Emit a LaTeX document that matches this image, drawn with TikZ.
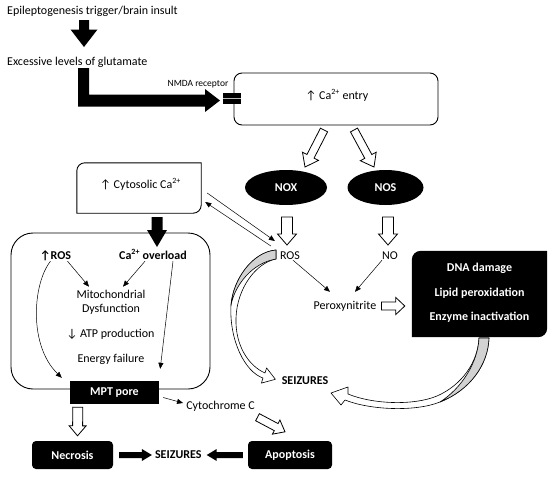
\documentclass[tikz,border=0pt]{standalone}
\usepackage{fontspec}
\setmainfont{Carlito}
\usetikzlibrary{arrows.meta,calc,shapes.geometric}

\newcommand{\blockarr}[6]{%
  \coordinate (hb) at ($(#3)!#6!(#2)$);
  \path[#1] ($(#2)!#4!90:(#3)$) -- ($(hb)!#4!90:(#3)$) -- ($(hb)!#5!90:(#3)$) -- (#3)
     -- ($(hb)!#5!-90:(#3)$) -- ($(hb)!#4!-90:(#3)$) -- ($(#2)!#4!-90:(#3)$) -- cycle;}

\begin{document}
\begin{tikzpicture}[x=1pt,y=-1pt,
  txt/.style={font=\fontsize{12}{14.5}\selectfont, inner sep=0pt, text height=8pt, text depth=2pt},
  btxt/.style={txt, font=\fontsize{12}{14.5}\selectfont\bfseries},
  blackbox/.style={fill=black, text=white, font=\fontsize{12}{14.5}\selectfont\bfseries, inner sep=0pt},
  whitebox/.style={draw=black, line width=0.9pt, fill=white, inner sep=0pt},
  thinarr/.style={line width=0.5pt, -{Triangle[length=6pt,width=5pt]}},
  openarr/.style={draw=black, fill=white, line width=0.8pt, line join=miter},
  solidarr/.style={fill=black},
  ribbon/.style={draw=black, fill=white, line width=0.6pt, line join=round},
  lens/.style={draw=black, fill=gray!35, line width=0.6pt, line join=round},
]
\useasboundingbox (0,0) rectangle (550,477);

% ---------- top texts ----------
\node[txt, anchor=base west] (ep) at (7,14) {Epileptogenesis trigger/brain insult};
\node[txt, anchor=base west] (glu) at (7,65) {Excessive levels of glutamate};
\node[inner sep=0pt, font=\fontsize{9.5}{11}\selectfont] (nmda) at (198,84) {NMDA receptor};

% ---------- Ca entry box ----------
\node[whitebox, rounded corners=8pt, minimum width=204pt, minimum height=52pt] (ca) at (336,99) {};
\node[txt] (catxt) at (337,96) {↑ Ca\textsuperscript{2+} entry};

% top black arrow
\coordinate (a1s) at (84,20);
\coordinate (a1e) at (84,47);
\blockarr{solidarr}{a1s}{a1e}{5pt}{13.5pt}{17.5pt}

% L-shaped arrow
\fill[black] (78,68) -- (89,68) -- (89,94.5) -- (205,94.5) -- (205,89) -- (220,100.5)
   -- (205,112) -- (205,106.5) -- (78,106.5) -- cycle;
% NMDA receptor bar
\node[fill=black, minimum width=18pt, minimum height=11pt, inner sep=0pt] (bar) at (232,98.5) {};
\draw[gray!55, line width=1.6pt] (bar.west) -- (bar.east);

% ---------- NOX / NOS ----------
\node[ellipse, fill=black, text=white, font=\fontsize{12}{14.5}\selectfont\bfseries,
      minimum width=82pt, minimum height=35pt, inner sep=0pt] (nox) at (286,187.5) {NOX};
\node[ellipse, fill=black, text=white, font=\fontsize{12}{14.5}\selectfont\bfseries,
      minimum width=76pt, minimum height=35pt, inner sep=0pt] (nos) at (385.5,187.5) {NOS};

\coordinate (a2s) at (324,130); \coordinate (a2e) at (305,167);
\blockarr{openarr}{a2s}{a2e}{4pt}{9pt}{12pt}
\coordinate (a3s) at (354,130); \coordinate (a3e) at (374,167);
\blockarr{openarr}{a3s}{a3e}{4pt}{9pt}{12pt}

\node[txt] (ros) at (290,256) {ROS};
\node[txt] (no) at (390,256) {NO};
\coordinate (a4s) at (287,217); \coordinate (a4e) at (287,245);
\blockarr{openarr}{a4s}{a4e}{5.5pt}{9.5pt}{11pt}
\coordinate (a5s) at (388,217); \coordinate (a5e) at (388,245);
\blockarr{openarr}{a5s}{a5e}{5.5pt}{9.5pt}{11pt}

\node[txt] (perox) at (345,306) {Peroxynitrite};
\draw[thinarr] ($(ros.south)+(3,-1)$) -- ($(perox.north)+(-15,-9)$);
\draw[thinarr] ($(no.south)+(-8,-1)$) -- ($(perox.north)+(10,-9)$);

% DNA box
\node[minimum width=135pt, minimum height=86pt, inner sep=0pt] (dna) at (479.5,294) {};
\fill[black] (dna.south west) -- ([yshift=-9pt]dna.north west) arc[start angle=180,end angle=90,radius=9pt]
   -- (dna.north east) -- ([yshift=9pt]dna.south east) arc[start angle=0,end angle=-90,radius=9pt] -- cycle;
\node[text=white, font=\fontsize{12}{24.5}\selectfont\bfseries, align=center, inner sep=0pt] (dnatxt) at (479.5,293)
  {DNA damage\\Lipid peroxidation\\Enzyme inactivation};

\coordinate (a6s) at ($(perox.east)+(5,0)$); \coordinate (a6e) at ($(dna.west)+(-7,12)$);
\blockarr{openarr}{a6s}{a6e}{4pt}{8.5pt}{9pt}

% ---------- cytosolic box ----------
\node[minimum width=124pt, minimum height=50pt, inner sep=0pt] (cyto) at (139,188) {};
\draw[line width=0.9pt, fill=white] (cyto.south west) -- ([yshift=-8pt]cyto.north west) arc[start angle=180,end angle=90,radius=8pt]
   -- (cyto.north east) -- ([yshift=8pt]cyto.south east) arc[start angle=0,end angle=-90,radius=8pt] -- cycle;
\node[txt] (cytotxt) at (140.5,185) {↑ Cytosolic Ca\textsuperscript{2+}};

\draw[thinarr] ($(cyto.east)+(6,5)$) -- ($(ros.west)+(-5,-15)$);
\draw[thinarr] ($(ros.west)+(-9,-10)$) -- ($(cyto.east)+(4,14)$);

% ---------- big mitochondria box ----------
\node[whitebox, rounded corners=22pt, minimum width=199pt, minimum height=156pt] (big) at (110.5,311) {};
\coordinate (a7s) at (157,217); \coordinate (a7e) at (157,247);
\blockarr{solidarr}{a7s}{a7e}{5.5pt}{10pt}{17pt}

\node[btxt] (rosb) at (55.5,256) {↑ROS};
\node[btxt] (caov) at (153,256) {Ca\textsuperscript{2+} overload};
\node[font=\fontsize{12}{14}\selectfont, align=center, inner sep=0pt] (mito) at (111,302) {Mitochondrial\\Dysfunction};
\node[txt] (atp) at (110.5,334) {↓ ATP production};
\node[txt] (energy) at (111,359.5) {Energy failure};

\draw[thinarr] ($(rosb.south)+(12,0)$) -- ($(mito.north)+(-22,-3)$);
\draw[thinarr] ($(caov.south)+(-8,0)$) -- ($(mito.north)+(12,-3)$);

% MPT pore
\node[blackbox, minimum width=89pt, minimum height=23pt] (mpt) at (114.5,392.5) {MPT pore};
\draw[thinarr] ($(rosb.south)+(-5,0)$) .. controls (33,283) and (28,345) .. ($(mpt.north west)+(-8,-3)$);
\draw[thinarr] ($(caov.south)+(20,0)$) -- ($(mpt.north east)+(1,-12)$);

\node[txt] (cytc) at (220.5,406) {Cytochrome C};
\draw[thinarr] ($(mpt.east)+(4,5)$) -- ($(cytc.west)+(-3,-3)$);

% bottom row
\node[blackbox, rounded corners=4pt, minimum width=81pt, minimum height=28pt] (necr) at (72.5,455) {Necrosis};
\node[btxt] (seiz1) at (178.3,455) {SEIZURES};
\node[blackbox, rounded corners=4pt, minimum width=84pt, minimum height=28pt] (apop) at (290,455) {Apoptosis};

\coordinate (a8s) at ($(mpt.south west)+(8,3)$); \coordinate (a8e) at ($(necr.north)+(5,-5)$);
\blockarr{openarr}{a8s}{a8e}{5pt}{8.5pt}{10pt}
\coordinate (a9s) at ($(cytc.south)+(37,6)$); \coordinate (a9e) at ($(apop.north)+(-5,-9)$);
\blockarr{openarr}{a9s}{a9e}{4pt}{8pt}{10pt}
\coordinate (a10s) at ($(necr.east)+(6,0)$); \coordinate (a10e) at ($(seiz1.west)+(-3,0)$);
\blockarr{solidarr}{a10s}{a10e}{3pt}{6pt}{10pt}
\coordinate (a11s) at ($(apop.west)+(-5,0)$); \coordinate (a11e) at ($(seiz1.east)+(5,0)$);
\blockarr{solidarr}{a11s}{a11e}{3pt}{6pt}{10pt}

\node[btxt] (seiz2) at (305,381) {SEIZURES};

% ---------- curved ribbon arrows ----------
% ROS -> SEIZURES
\path[ribbon] (276,250) .. controls (252,252) and (233,280) .. (231,305) .. controls (229,340) and (245,372) .. (263,378)
   -- (261.4,383.1) -- (275.4,379.3) -- (266.6,367.9) -- (265,373)
   .. controls (249,366) and (235,346) .. (236,318) .. controls (237,288) and (256,263) .. (276,259) -- cycle;
\path[lens] (276,250) .. controls (252,252) and (233,280) .. (231,305) .. controls (235,285) and (252,263) .. (276,259) -- cycle;

% DNA box -> SEIZURES
\path[ribbon] (489,338) .. controls (488,365) and (470,390) .. (440,402) .. controls (415,412) and (370,410) .. (345,400)
   -- (341,405) -- (331,393) -- (348,387) -- (348,394)
   .. controls (372,404) and (413,406) .. (437,396) .. controls (462,385) and (478,362) .. (479,338) -- cycle;
\path[lens] (489,338) .. controls (488,365) and (470,390) .. (440,402) .. controls (462,388) and (478,362) .. (479,338) -- cycle;

\end{tikzpicture}
\end{document}
